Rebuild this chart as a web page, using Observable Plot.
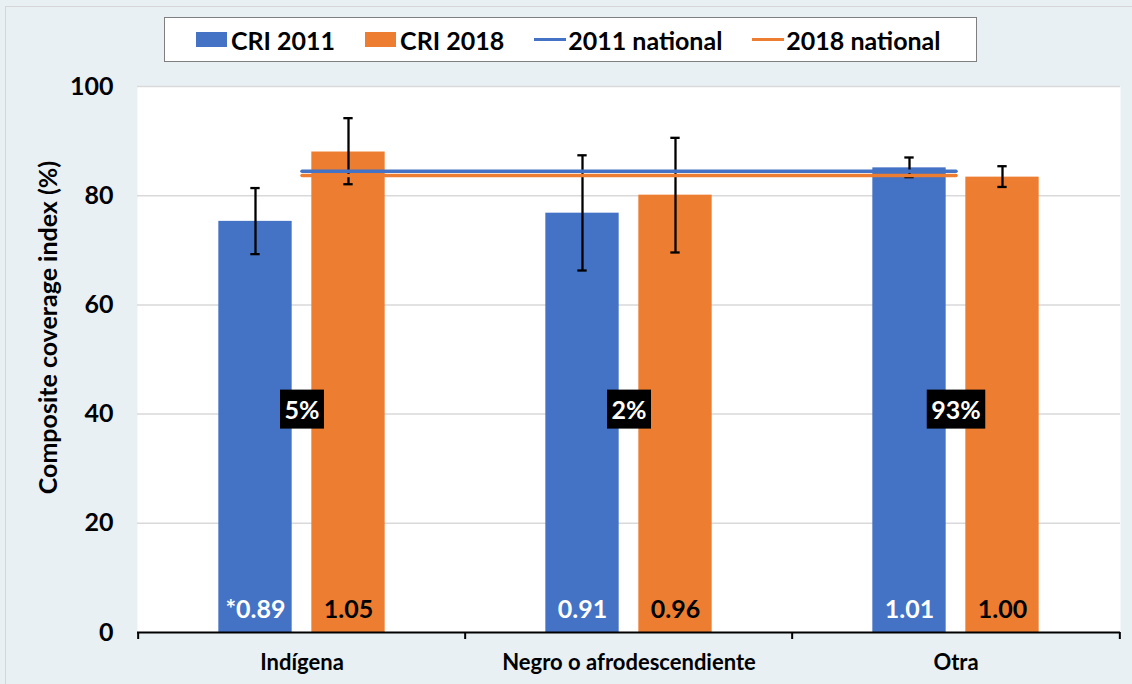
<!DOCTYPE html>
<html>
<head>
<meta charset="utf-8">
<script src="https://cdn.jsdelivr.net/npm/d3@7"></script>
<script src="https://cdn.jsdelivr.net/npm/@observablehq/plot@0.6"></script>
<style>
  html, body { margin: 0; padding: 0; }
  body { width: 1132px; height: 684px; background: #e8f0f3; position: relative; overflow: hidden; font-family: Lato, sans-serif; font-weight: bold; }
  #frameBorder { position: absolute; left: 5px; top: 6px; width: 1140px; height: 700px; border-left: 1.5px solid #d6d6d6; border-top: 1.5px solid #d6d6d6; box-sizing: border-box; }
  #legend { position: absolute; left: 164px; top: 17px; width: 813px; height: 45px; box-sizing: border-box; background: #fff; border: 1.5px solid #7f7f7f; display: flex; align-items: center; justify-content: flex-start; padding-left: 31px; font-size: 25px; color: #000; }
  .item { display: flex; align-items: center; margin-right: 30px; white-space: nowrap; }
  .sq { width: 31px; height: 15px; margin-right: 4px; }
  .ln { width: 32px; height: 3.5px; margin-right: 2px; }
  #chart { position: absolute; left: 0; top: 70px; }
</style>
</head>
<body>
<div id="frameBorder"></div>
<div id="legend"></div>
<div id="chart"></div>
<script>
const categories = ["Indígena", "Negro o afrodescendiente", "Otra"];
const cri2011 = [75.3, 76.8, 85.1];
const cri2018 = [88.0, 80.1, 83.4];
const err2011Low = [69.3, 66.3, 83.4];
const err2011High = [81.4, 87.4, 87.0];
const err2018Low = [82.1, 69.6, 81.6];
const err2018High = [94.2, 90.6, 85.4];
const ratio2011 = ["*0.89", "0.91", "1.01"];
const ratio2018 = ["1.05", "0.96", "1.00"];
const shares = ["5%", "2%", "93%"];
const national2011 = 84.5;
const national2018 = 83.7;
const yTicks = [0, 20, 40, 60, 80, 100];
const gridTicks = [20, 40, 60, 80, 100];
const yTitle = "Composite coverage index (%)";
const legendLabels = ["CRI 2011", "CRI 2018", "2011 national", "2018 national"];

const blue = "#4472C4", orange = "#ED7D31";

// legend
const legend = document.getElementById("legend");
legendLabels.forEach((lab, i) => {
  const it = document.createElement("div");
  it.className = "item";
  const sw = document.createElement("span");
  sw.className = i < 2 ? "sq" : "ln";
  sw.style.background = i % 2 === 0 ? blue : orange;
  it.appendChild(sw);
  const t = document.createElement("span");
  t.textContent = lab;
  it.appendChild(t);
  legend.appendChild(it);
});

const W = 1132, H = 614, mL = 137, mR = 12, mT = 16, mB = 52;
const bw = (W - mL - mR) / categories.length;
const off = 46.5, barW = 74, capW = 10;
const in2011L = bw / 2 - off - barW / 2, in2011R = bw - in2011L - barW;
const in2018L = bw / 2 + off - barW / 2, in2018R = bw - in2018L - barW;

const rows = categories.map((c, i) => ({
  c, v11: cri2011[i], v18: cri2018[i],
  lo11: err2011Low[i], hi11: err2011High[i],
  lo18: err2018Low[i], hi18: err2018High[i],
  r11: ratio2011[i], r18: ratio2018[i], share: shares[i]
}));
const nat = categories.flatMap(c => [
  {c, s: "2011", v: national2011},
  {c, s: "2018", v: national2018}
]);

function errMarks(lo, hi, sign) {
  const capL = bw / 2 + sign * off - capW / 2;
  const capR = bw - capL - capW;
  return [
    Plot.ruleX(rows, {x: "c", y1: lo, y2: hi, dx: sign * off, stroke: "#000", strokeWidth: 2.3}),
    Plot.tickY(rows, {x: "c", y: hi, insetLeft: capL, insetRight: capR, stroke: "#000", strokeWidth: 2.3}),
    Plot.tickY(rows, {x: "c", y: lo, insetLeft: capL, insetRight: capR, stroke: "#000", strokeWidth: 2.3})
  ];
}

const plot = Plot.plot({
  width: W, height: H,
  marginLeft: mL, marginRight: mR, marginTop: mT, marginBottom: mB,
  style: {fontFamily: "Lato, sans-serif", fontWeight: "bold", fontSize: "25px", color: "#000", background: "transparent", overflow: "visible"},
  x: {domain: categories, padding: 0, tickSize: 0, tickPadding: 22, label: null},
  y: {domain: [0, 100], ticks: yTicks, tickSize: 0, tickPadding: 24, label: null},
  marks: [
    Plot.frame({fill: "#fff", stroke: null}),
    Plot.ruleY(gridTicks, {stroke: "#d9d9d9", strokeWidth: 1.5}),
    Plot.barY(rows, {x: "c", y: "v11", fill: blue, insetLeft: in2011L, insetRight: in2011R}),
    Plot.barY(rows, {x: "c", y: "v18", fill: orange, insetLeft: in2018L, insetRight: in2018R}),
    ...errMarks("lo11", "hi11", -1),
    ...errMarks("lo18", "hi18", 1),
    Plot.lineY(nat, {x: "c", y: "v", z: "s", stroke: d => d.s === "2011" ? blue : orange, strokeWidth: 3.5}),
    Plot.ruleY([0], {stroke: "#000", strokeWidth: 2}),
    Plot.ruleX(categories, {x: d => d, y1: 0, y2: 0, dx: -bw / 2, insetBottom: -7, stroke: "#000", strokeWidth: 2}),
    Plot.ruleX(categories.slice(-1), {x: d => d, y1: 0, y2: 0, dx: bw / 2, insetBottom: -7, stroke: "#000", strokeWidth: 2}),
    Plot.text(rows, {x: "c", y: 0, text: "r11", dx: -off, dy: -23, fill: "#fff", fontSize: 25, fontWeight: "bold"}),
    Plot.text(rows, {x: "c", y: 0, text: "r18", dx: off, dy: -23, fill: "#000", fontSize: 25, fontWeight: "bold"}),
    Plot.text(rows, {x: "c", y: 40, text: "share", dy: -3, fill: "#fff", fontSize: 25, fontWeight: "bold"}),
    Plot.text([yTitle], {frameAnchor: "left", textAnchor: "middle", rotate: -90, dx: -89, dy: -32, fontSize: 25, fontWeight: "bold", fill: "#000"})
  ]
});
document.getElementById("chart").appendChild(plot);

// x-axis category labels slightly smaller
plot.querySelectorAll('g[aria-label="x-axis tick label"] text, g[aria-label="x-axis"] text').forEach(t => {
  t.setAttribute("font-size", "22px");
  t.style.fontSize = "22px";
});

// black boxes behind share labels
plot.querySelectorAll("text").forEach(t => {
  if (!shares.includes(t.textContent)) return;
  const b = t.getBBox();
  const r = document.createElementNS("http://www.w3.org/2000/svg", "rect");
  const padX = 4.5, h = 39;
  r.setAttribute("x", b.x - padX);
  r.setAttribute("y", b.y + b.height / 2 - h / 2);
  r.setAttribute("width", b.width + 2 * padX);
  r.setAttribute("height", h);
  r.setAttribute("fill", "#000");
  if (t.getAttribute("transform")) r.setAttribute("transform", t.getAttribute("transform"));
  t.parentNode.insertBefore(r, t);
});
</script>
</body>
</html>
